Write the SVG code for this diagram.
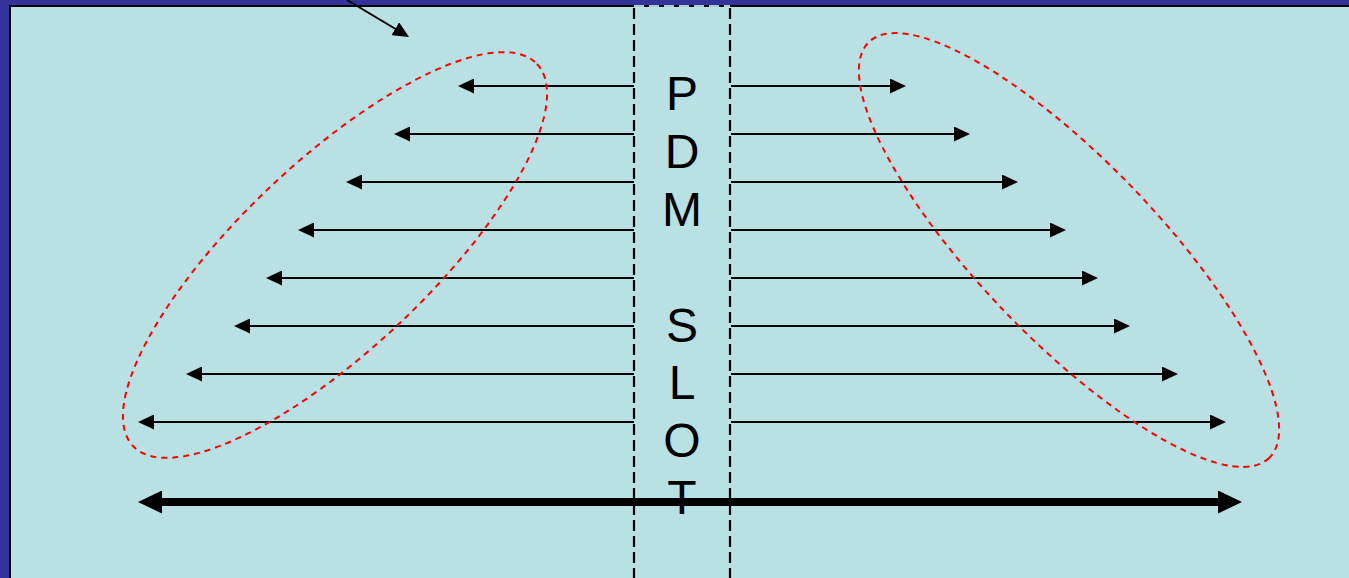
<svg xmlns="http://www.w3.org/2000/svg" width="1349" height="578" viewBox="0 0 1349 578">
  <style>
    .thin { stroke: #000; stroke-width: 2; fill: none; marker-end: url(#ah); }
    .slot { stroke: #000; stroke-width: 2.2; stroke-dasharray: 11 5; fill: none; }
    .oval { stroke: #FF0000; stroke-width: 2; stroke-dasharray: 6 5; fill: none; }
    .lbl { font-family: "Liberation Sans", Arial, sans-serif; font-size: 48px; fill: #000; text-anchor: middle; }
  </style>
  <defs>
    <marker id="ah" markerUnits="userSpaceOnUse" markerWidth="16" markerHeight="15" refX="14" refY="7.5" orient="auto">
      <path d="M0,0 L16,7.5 L0,15 z" fill="#000"/>
    </marker>
    <marker id="ahBig" markerUnits="userSpaceOnUse" markerWidth="24" markerHeight="23" refX="16" refY="11.5" orient="auto-start-reverse">
      <path d="M0,0 L24,11.5 L0,23 z" fill="#000"/>
    </marker>
  </defs>

  <rect x="0" y="0" width="1349" height="578" fill="#333399"/>
  <rect x="10" y="6" width="1350" height="590" fill="#B9E0E3" stroke="#000" stroke-width="2"/>

  <g id="slot">
    <line x1="634" y1="8" x2="634" y2="578" class="slot"/>
    <line x1="730" y1="8" x2="730" y2="578" class="slot"/>
    <line x1="634" y1="6" x2="730" y2="6" stroke="#A9CFD3" stroke-width="2" stroke-dasharray="10 5"/>
  </g>

  <g id="slot-label">
    <text class="lbl" x="682" y="110">P</text>
    <text class="lbl" x="682" y="168">D</text>
    <text class="lbl" x="682" y="226">M</text>
    <text class="lbl" x="682" y="342">S</text>
    <text class="lbl" x="682" y="399">L</text>
    <text class="lbl" x="682" y="457">O</text>
    <text class="lbl" x="682" y="514">T</text>
  </g>

  <g id="connectors">
    <line class="thin" x1="634" y1="86" x2="460" y2="86"/>
    <line class="thin" x1="634" y1="134" x2="396" y2="134"/>
    <line class="thin" x1="634" y1="182" x2="348" y2="182"/>
    <line class="thin" x1="634" y1="230" x2="300" y2="230"/>
    <line class="thin" x1="634" y1="278" x2="268" y2="278"/>
    <line class="thin" x1="634" y1="326" x2="236" y2="326"/>
    <line class="thin" x1="634" y1="374" x2="188" y2="374"/>
    <line class="thin" x1="634" y1="422" x2="140" y2="422"/>

    <line class="thin" x1="731" y1="86" x2="904" y2="86"/>
    <line class="thin" x1="731" y1="134" x2="968" y2="134"/>
    <line class="thin" x1="731" y1="182" x2="1016" y2="182"/>
    <line class="thin" x1="731" y1="230" x2="1064" y2="230"/>
    <line class="thin" x1="731" y1="278" x2="1096" y2="278"/>
    <line class="thin" x1="731" y1="326" x2="1128" y2="326"/>
    <line class="thin" x1="731" y1="374" x2="1176" y2="374"/>
    <line class="thin" x1="731" y1="422" x2="1224" y2="422"/>

    <line x1="146" y1="502" x2="1234" y2="502" stroke="#000" stroke-width="8" marker-start="url(#ahBig)" marker-end="url(#ahBig)"/>

    <line class="thin" x1="347" y1="0" x2="407.3" y2="36"/>
  </g>

  <g id="left-group">
    <ellipse class="oval" cx="335" cy="255" rx="278" ry="94" transform="rotate(-43.4 335 255)"/>
  </g>
  <g id="right-group">
    <ellipse class="oval" cx="1069" cy="250" rx="288.6" ry="89" transform="rotate(46.1 1069 250)"/>
  </g>
</svg>
